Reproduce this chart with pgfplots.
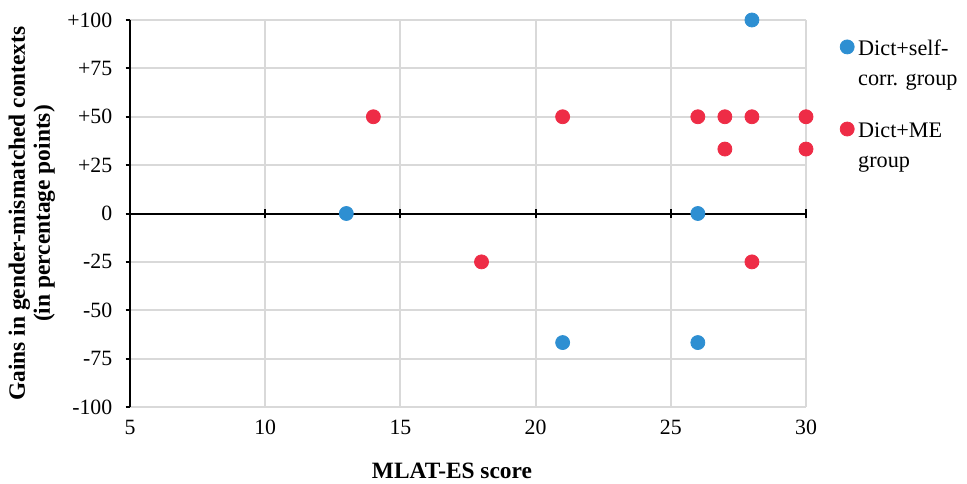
\documentclass[border=0pt]{standalone}
\usepackage{fontspec}
\setmainfont{Liberation Serif}
\usepackage{pgfplots}
\pgfplotsset{compat=1.18}
\definecolor{cblue}{HTML}{2E8FD2}
\definecolor{cred}{HTML}{EE2C46}
\definecolor{gridc}{HTML}{D9D9D9}
\begin{document}
\fontsize{10.4}{12.5}\selectfont
\begin{tikzpicture}
\useasboundingbox (-65pt,-38pt) rectangle (418.5pt,203.5pt);
\begin{axis}[
  at={(0pt,0pt)}, anchor=south west,
  scale only axis, width=338pt, height=193.5pt,
  xmin=5, xmax=30, ymin=-100, ymax=100,
  xtick={5,10,15,20,25,30},
  xticklabels={5,10,15,20,25,30},
  ytick={-100,-75,-50,-25,0,25,50,75,100},
  yticklabels={-100,-75,-50,-25,0,+25,+50,+75,+100},
  axis x line*=bottom, axis y line*=left,
  x axis line style={gridc, line width=1pt, -},
  y axis line style={black, line width=1pt, -},
  grid=major, grid style={gridc, line width=1pt},
  x tick style={draw=none},
  y tick style={draw=black, line width=1pt},
  ytick pos=left, ytick align=outside, major tick length=2.2pt,
  ticklabel style={font=\fontsize{10.9}{12}\selectfont},
  xticklabel style={yshift=-3pt},
  yticklabel style={xshift=-3pt},
  xlabel={MLAT-ES score},
  xlabel style={font=\fontsize{11.7}{13}\selectfont\bfseries, yshift=-7pt, xshift=-8pt},
  ylabel={Gains in gender-mismatched contexts\\(in percentage points)},
  ylabel style={font=\fontsize{11.7}{12.5}\selectfont\bfseries, align=center, yshift=-1pt},
  legend style={at={(1.05,0.973)}, anchor=north west, draw=none, fill=none,
    font=\fontsize{11.1}{15}\selectfont, row sep=25pt, inner sep=0pt},
  legend cell align=left,
  clip=false,
]
\draw[black, line width=1pt] (axis cs:5,0) -- (axis cs:30,0);
\pgfplotsinvokeforeach{10,15,20,25,30}{
  \draw[black, line width=1pt] ([yshift=-2.2pt]axis cs:#1,0) -- ([yshift=2.2pt]axis cs:#1,0);
}
\addplot[only marks, mark=*, mark size=3.5pt, cblue, mark options={draw=cblue, fill=cblue}]
  coordinates {(28,100) (13,0) (26,0) (21,-66.7) (26,-66.7)};
\addlegendentry{\begin{tabular}[t]{@{}l@{}}Dict+self-\\corr. group\end{tabular}}
\addplot[only marks, mark=*, mark size=3.5pt, cred, mark options={draw=cred, fill=cred}]
  coordinates {(14,50) (21,50) (26,50) (27,50) (28,50) (30,50) (27,33.3) (30,33.3) (18,-25) (28,-25)};
\addlegendentry{\begin{tabular}[t]{@{}l@{}}Dict+ME\\group\end{tabular}}
\end{axis}
\end{tikzpicture}
\end{document}
